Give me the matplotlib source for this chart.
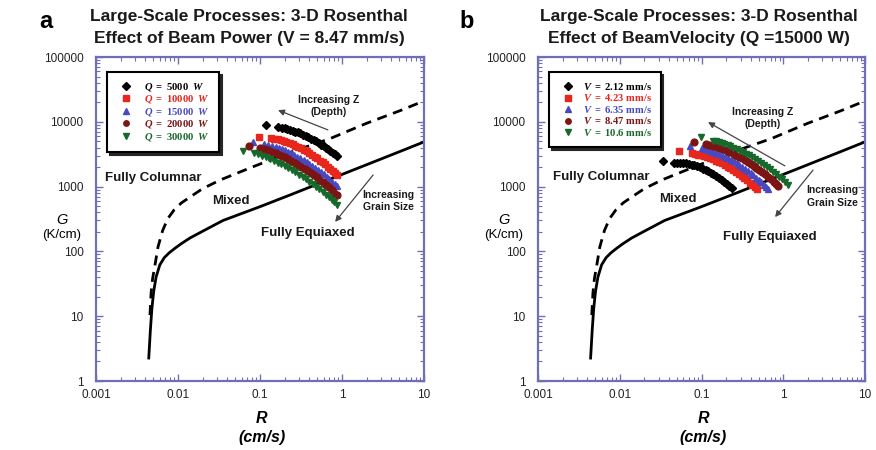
import matplotlib
matplotlib.use("Agg")
import matplotlib.pyplot as plt
from matplotlib.ticker import FixedLocator, LogLocator, NullFormatter

plt.rcParams["font.family"] = ["Liberation Sans", "DejaVu Sans"]
plt.rcParams["mathtext.fontset"] = "custom"
plt.rcParams["mathtext.rm"] = "Liberation Serif:bold"
plt.rcParams["mathtext.bf"] = "Liberation Serif:bold"
plt.rcParams["mathtext.it"] = "Liberation Serif:italic:bold"

# ---- CET boundary curves (R in cm/s, G in K/cm) ----
equiaxed_R = [0.0044, 0.0046, 0.0048, 0.00505, 0.0054, 0.006, 0.0068, 0.0078, 0.0092,
              0.011, 0.014, 0.02, 0.0354, 0.06, 0.1, 0.232, 0.5, 1, 2, 5, 10]
equiaxed_G = [2.26, 6, 13, 24, 40, 62, 80, 95, 112, 132, 161, 205, 300, 385, 490,
              742, 1090, 1540, 2180, 3450, 4900]
columnar_R = [0.00455, 0.0047, 0.0049, 0.0052, 0.0057, 0.0065, 0.0075, 0.009, 0.011,
              0.014, 0.02, 0.0325, 0.0755, 0.2, 0.714, 2, 5, 10]
columnar_G = [10.4, 23, 38, 58, 117, 210, 320, 440, 560, 690, 930, 1260, 1940, 3150,
              5500, 9500, 14700, 21000]

# ---- panel a: beam power series (V = 8.47 mm/s) ----
q5000_R = [0.118, 0.166, 0.185, 0.20, 0.215, 0.23, 0.25, 0.27, 0.29, 0.31, 0.335, 0.36,
           0.39, 0.42, 0.45, 0.48, 0.52, 0.56, 0.60, 0.64, 0.68, 0.72, 0.77, 0.82, 0.87]
q5000_G = [8900, 8318, 8110, 7920, 7745, 7556, 7310, 7080, 6840, 6610, 6340, 6080,
           5785, 5510, 5255, 5010, 4716, 4444, 4195, 3963, 3750, 3557, 3335, 3130, 2946]
q10000_R = [0.097, 0.136, 0.15, 0.165, 0.18, 0.195, 0.21, 0.23, 0.25, 0.27, 0.29, 0.315,
            0.34, 0.37, 0.40, 0.43, 0.465, 0.50, 0.54, 0.58, 0.62, 0.67, 0.72, 0.77,
            0.82, 0.87]
q10000_G = [5900, 5623, 5495, 5346, 5192, 5036, 4882, 4675, 4480, 4295, 4117, 3904,
            3704, 3486, 3283, 3095, 2897, 2716, 2528, 2360, 2207, 2035, 1882, 1746,
            1623, 1514]
q15000_R = [0.082, 0.112, 0.125, 0.14, 0.155, 0.17, 0.185, 0.20, 0.22, 0.24, 0.26, 0.285,
            0.31, 0.34, 0.37, 0.40, 0.435, 0.47, 0.51, 0.55, 0.60, 0.65, 0.70, 0.76,
            0.82, 0.87]
q15000_G = [4800, 4571, 4420, 4246, 4077, 3913, 3758, 3608, 3422, 3250, 3088, 2903,
            2736, 2554, 2390, 2242, 2085, 1947, 1805, 1677, 1538, 1416, 1309, 1195,
            1096, 1023]
q20000_R = [0.073, 0.10, 0.112, 0.125, 0.14, 0.155, 0.17, 0.185, 0.20, 0.22, 0.24, 0.265,
            0.29, 0.32, 0.35, 0.38, 0.415, 0.45, 0.49, 0.53, 0.58, 0.63, 0.69, 0.75,
            0.81, 0.87]
q20000_G = [4300, 3981, 3817, 3645, 3460, 3288, 3126, 2978, 2840, 2670, 2518, 2345,
            2191, 2027, 1883, 1754, 1621, 1504, 1386, 1282, 1169, 1071, 970, 882,
            807, 741]
q30000_R = [0.062, 0.084, 0.095, 0.107, 0.12, 0.134, 0.15, 0.165, 0.18, 0.20, 0.22,
            0.245, 0.27, 0.30, 0.33, 0.36, 0.40, 0.44, 0.48, 0.53, 0.58, 0.63, 0.69,
            0.75, 0.81, 0.87]
q30000_G = [3550, 3311, 3147, 2980, 2816, 2656, 2491, 2351, 2224, 2073, 1939, 1790,
            1661, 1526, 1409, 1306, 1187, 1086, 999, 904, 825, 755, 684, 623, 570, 525]

# ---- panel b: beam velocity series (Q = 15000 W) ----
v212_R = [0.0335, 0.046, 0.050, 0.055, 0.060, 0.065, 0.070, 0.076, 0.082, 0.089, 0.096,
          0.104, 0.112, 0.121, 0.130, 0.140, 0.151, 0.163, 0.176, 0.190, 0.205, 0.220,
          0.234]
v212_G = [2510, 2339, 2343, 2332, 2308, 2275, 2235, 2181, 2123, 2052, 1980, 1897, 1817,
          1728, 1644, 1554, 1461, 1367, 1274, 1182, 1091, 1010, 942]
v423_R = [0.0535, 0.0758, 0.083, 0.091, 0.099, 0.108, 0.118, 0.128, 0.139, 0.151, 0.164,
          0.178, 0.193, 0.209, 0.226, 0.245, 0.265, 0.287, 0.31, 0.335, 0.36, 0.39,
          0.42, 0.445, 0.473]
v423_G = [3540, 3266, 3203, 3126, 3045, 2951, 2847, 2742, 2632, 2515, 2396, 2274, 2152,
          2031, 1913, 1791, 1675, 1559, 1450, 1343, 1248, 1145, 1055, 987, 918]
v635_R = [0.0723, 0.100, 0.109, 0.119, 0.129, 0.140, 0.152, 0.165, 0.179, 0.194, 0.210,
          0.228, 0.247, 0.268, 0.290, 0.314, 0.340, 0.368, 0.398, 0.430, 0.465, 0.50,
          0.54, 0.58, 0.62, 0.656]
v635_G = [4277, 3899, 3800, 3687, 3571, 3447, 3315, 3177, 3034, 2890, 2747, 2596, 2449,
          2299, 2157, 2015, 1876, 1743, 1614, 1492, 1373, 1268, 1162, 1068, 985, 918]
v847_R = q15000_R
v847_G = q15000_G
v1060_R = [0.0977, 0.137, 0.149, 0.162, 0.176, 0.191, 0.208, 0.226, 0.246, 0.268, 0.292,
           0.318, 0.346, 0.377, 0.41, 0.446, 0.485, 0.528, 0.575, 0.625, 0.68, 0.74,
           0.81, 0.88, 0.96, 1.05, 1.14]
v1060_G = [5890, 5105, 4970, 4823, 4668, 4508, 4333, 4160, 3978, 3790, 3599, 3410,
           3223, 3034, 2852, 2671, 2497, 2324, 2157, 2000, 1846, 1699, 1550, 1420,
           1293, 1168, 1059]

power_labels = [r"$Q\ =\ \mathrm{5000}\ \ W$", r"$Q\ =\ \mathrm{10000}\ \ W$",
                r"$Q\ =\ \mathrm{15000}\ \ W$", r"$Q\ =\ \mathrm{20000}\ \ W$",
                r"$Q\ =\ \mathrm{30000}\ \ W$"]
velocity_labels = [r"$V\ =\ \mathrm{2.12\ mm/s}$", r"$V\ =\ \mathrm{4.23\ mm/s}$",
                   r"$V\ =\ \mathrm{6.35\ mm/s}$", r"$V\ =\ \mathrm{8.47\ mm/s}$",
                   r"$V\ =\ \mathrm{10.6\ mm/s}$"]
x_ticks = [0.001, 0.01, 0.1, 1, 10]
x_ticklabels = ["0.001", "0.01", "0.1", "1", "10"]
y_ticks = [1, 10, 100, 1000, 10000, 100000]
y_ticklabels = ["1", "10", "100", "1000", "10000", "100000"]

colors = ["#000000", "#e8261c", "#4848c0", "#7d1414", "#17692b"]
markers = ["D", "s", "^", "o", "v"]
frame_color = "#6f6fb8"

fig = plt.figure(figsize=(8.76, 4.5), dpi=100)
ax_a = fig.add_axes([96 / 876, 1 - 381 / 450, 328 / 876, 324 / 450])
ax_b = fig.add_axes([538 / 876, 1 - 381 / 450, 327 / 876, 324 / 450])


def setup_axes(ax):
    ax.set_xscale("log")
    ax.set_yscale("log")
    ax.set_xlim(0.001, 10)
    ax.set_ylim(1, 100000)
    ax.xaxis.set_major_locator(FixedLocator(x_ticks))
    ax.yaxis.set_major_locator(FixedLocator(y_ticks))
    ax.set_xticklabels(x_ticklabels)
    ax.set_yticklabels(y_ticklabels)
    ax.xaxis.set_minor_locator(LogLocator(base=10, subs=range(2, 10), numticks=20))
    ax.yaxis.set_minor_locator(LogLocator(base=10, subs=range(2, 10), numticks=20))
    ax.xaxis.set_minor_formatter(NullFormatter())
    ax.yaxis.set_minor_formatter(NullFormatter())
    ax.tick_params(which="both", direction="in", top=True, right=True,
                   color=frame_color, labelsize=8.5, labelcolor="#222222")
    ax.tick_params(which="major", length=5, width=1)
    ax.tick_params(which="minor", length=3, width=0.8)
    ax.tick_params(axis="x", pad=6)
    ax.tick_params(axis="y", pad=9)
    for sp in ax.spines.values():
        sp.set_color(frame_color)
        sp.set_linewidth(1.6)
    ax.plot(equiaxed_R, equiaxed_G, color="black", lw=2.0, zorder=2)
    ax.plot(columnar_R, columnar_G, color="black", lw=2.0, dashes=(3.6, 2.4), zorder=2)
    ax.text(0.506, -0.115, "R", transform=ax.transAxes, ha="center", va="center",
            fontsize=11.5, fontweight="bold", fontstyle="italic")
    ax.text(0.506, -0.175, "(cm/s)", transform=ax.transAxes, ha="center", va="center",
            fontsize=11.5, fontweight="bold", fontstyle="italic")
    ax.text(-0.104, 0.497, "G", transform=ax.transAxes, ha="center", va="center",
            fontsize=10.5, fontstyle="italic")
    ax.text(-0.104, 0.452, "(K/cm)", transform=ax.transAxes, ha="center", va="center",
            fontsize=9.5)


def add_series(ax, series, labels, textpad):
    for (r, g), lab, c, m in zip(series, labels, colors, markers):
        ax.plot(r, g, linestyle="none", marker=m, ms=4.9 if m != "D" else 4.5,
                color=c, mec=c, label=lab, zorder=3)
    leg = ax.legend(loc="upper left", bbox_to_anchor=(0.033, 0.954), fontsize=7.6,
                    frameon=True, fancybox=False, shadow={"color": "0.15", "alpha": 1},
                    edgecolor="black", handlelength=1.9, handletextpad=textpad,
                    borderpad=0.85, labelspacing=0.05, markerscale=0.8,
                    borderaxespad=0)
    leg.get_frame().set_linewidth(1.5)
    for txt, c in zip(leg.get_texts(), colors):
        txt.set_color(c)
    leg.set_zorder(5)


def add_notes(ax, notes):
    bold = dict(fontweight="bold", transform=ax.transAxes, color="#1a1a1a")
    ax.text(notes["col"][0], notes["col"][1], "Fully Columnar", ha="left", va="center",
            fontsize=9.5, **bold)
    ax.text(notes["mix"][0], notes["mix"][1], "Mixed", ha="center", va="center",
            fontsize=9.5, **bold)
    ax.text(notes["eqx"][0], notes["eqx"][1], "Fully Equiaxed", ha="center", va="center",
            fontsize=9.5, **bold)
    ax.text(notes["z"][0], notes["z"][1], "Increasing Z\n(Depth)", ha="center",
            va="center", fontsize=7.5, linespacing=1.2, **bold)
    ax.text(notes["gs"][0], notes["gs"][1], "Increasing\nGrain Size", ha="center",
            va="center", fontsize=7.5, linespacing=1.3, **bold)
    arrow = dict(arrowstyle="-|>", color="#444444", lw=0.9, mutation_scale=9,
                 shrinkA=0, shrinkB=0)
    ax.annotate("", xy=notes["z_arrow"][1], xytext=notes["z_arrow"][0],
                xycoords="axes fraction", textcoords="axes fraction", arrowprops=arrow)
    ax.annotate("", xy=notes["gs_arrow"][1], xytext=notes["gs_arrow"][0],
                xycoords="axes fraction", textcoords="axes fraction", arrowprops=arrow)


setup_axes(ax_a)
setup_axes(ax_b)

add_series(ax_a, [(q5000_R, q5000_G), (q10000_R, q10000_G), (q15000_R, q15000_G),
                  (q20000_R, q20000_G), (q30000_R, q30000_G)], power_labels, 0.8)
add_series(ax_b, [(v212_R, v212_G), (v423_R, v423_G), (v635_R, v635_G),
                  (v847_R, v847_G), (v1060_R, v1060_G)], velocity_labels, 0.45)

add_notes(ax_a, {"col": (0.027, 0.627), "mix": (0.412, 0.556), "eqx": (0.646, 0.457),
                 "z": (0.71, 0.849), "gs": (0.892, 0.555),
                 "z_arrow": ((0.707, 0.775), (0.555, 0.836)),
                 "gs_arrow": ((0.845, 0.636), (0.729, 0.491))})
add_notes(ax_b, {"col": (0.046, 0.630), "mix": (0.428, 0.562), "eqx": (0.709, 0.444),
                 "z": (0.688, 0.812), "gs": (0.899, 0.569),
                 "z_arrow": ((0.755, 0.664), (0.520, 0.799)),
                 "gs_arrow": ((0.841, 0.651), (0.725, 0.506))})

title_kw = dict(ha="center", va="center", fontsize=12.5, fontweight="bold",
                color="#1a1a1a")
fig.text(249 / 876, 1 - 16 / 450, "Large-Scale Processes: 3-D Rosenthal", **title_kw)
fig.text(249 / 876, 1 - 39 / 450, "Effect of Beam Power (V = 8.47 mm/s)", **title_kw)
fig.text(699 / 876, 1 - 16 / 450, "Large-Scale Processes: 3-D Rosenthal", **title_kw)
fig.text(699 / 876, 1 - 39 / 450, "Effect of BeamVelocity (Q =15000 W)", **title_kw)
fig.text(46 / 876, 1 - 22 / 450, "a", ha="center", va="center", fontsize=17,
         fontweight="bold")
fig.text(467 / 876, 1 - 22 / 450, "b", ha="center", va="center", fontsize=17,
         fontweight="bold")

fig.savefig("out.png", dpi=100)
